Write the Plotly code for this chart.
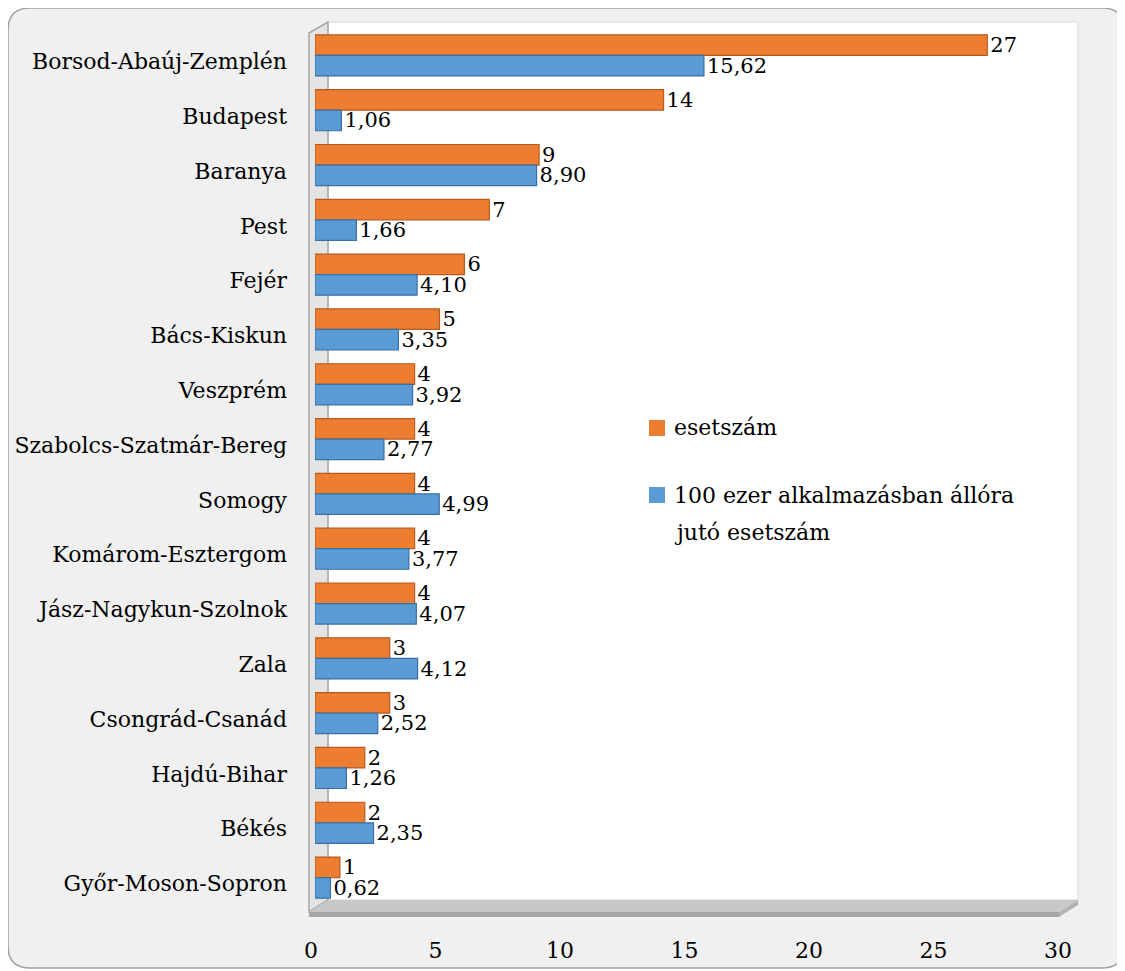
import plotly.graph_objects as go

categories = ["Borsod-Abaúj-Zemplén", "Budapest", "Baranya", "Pest", "Fejér", "Bács-Kiskun",
              "Veszprém", "Szabolcs-Szatmár-Bereg", "Somogy", "Komárom-Esztergom",
              "Jász-Nagykun-Szolnok", "Zala", "Csongrád-Csanád", "Hajdú-Bihar", "Békés",
              "Győr-Moson-Sopron"]
esetszam = [27, 14, 9, 7, 6, 5, 4, 4, 4, 4, 4, 3, 3, 2, 2, 1]
per100k = [15.62, 1.06, 8.90, 1.66, 4.10, 3.35, 3.92, 2.77, 4.99, 3.77, 4.07, 4.12, 2.52, 1.26, 2.35, 0.62]
x_ticks = [0, 5, 10, 15, 20, 25, 30]
series_names = ["esetszám", "100 ezer alkalmazásban állóra", "jutó esetszám"]

FONT = "DejaVu Serif"
FS = 22
W, H = 1117, 963          # page has an 8px body margin
OFF = 8
# plot area in page pixels
PL, PR, PT, PB = 315, 1062, 28, 905
ORANGE, BLUE = "#ED7D31", "#5B9BD5"


def px(X):
    return (X - PL) / (PR - PL)


def py(Y):
    return (PB - Y) / (PB - PT)


def poly(points):
    return "M " + " L ".join(f"{px(x):.5f},{py(y):.5f}" for x, y in points) + " Z"


def fmt(v):
    return f"{v:.2f}".replace(".", ",")


fig = go.Figure()
fig.add_trace(go.Bar(
    y=categories, x=esetszam, orientation="h", name=series_names[0],
    marker=dict(color=ORANGE, line=dict(color="#B85A1C", width=1.2)),
    text=[str(v) for v in esetszam], textposition="outside", cliponaxis=False,
    constraintext="none", textfont=dict(family=FONT, size=21, color="#000000"),
    showlegend=False,
))
fig.add_trace(go.Bar(
    y=categories, x=per100k, orientation="h", name=series_names[1] + " " + series_names[2],
    marker=dict(color=BLUE, line=dict(color="#3A6FA5", width=1.2)),
    text=[fmt(v) for v in per100k], textposition="outside", cliponaxis=False,
    constraintext="none", textfont=dict(family=FONT, size=21, color="#000000"),
    showlegend=False,
))

# rounded outer frame
r = 22
x0, x1, y0, y1 = 8, 1124, 8, 968
frame = (f"M {px(x0+r)},{py(y0)} L {px(x1-r)},{py(y0)} "
         f"Q {px(x1)},{py(y0)} {px(x1)},{py(y0+r)} L {px(x1)},{py(y1-r)} "
         f"Q {px(x1)},{py(y1)} {px(x1-r)},{py(y1)} L {px(x0+r)},{py(y1)} "
         f"Q {px(x0)},{py(y1)} {px(x0)},{py(y1-r)} L {px(x0)},{py(y0+r)} "
         f"Q {px(x0)},{py(y0)} {px(x0+r)},{py(y0)} Z")

shapes = [
    dict(type="path", xref="paper", yref="paper", layer="below", path=frame,
         line=dict(color="#A0A0A0", width=1.5), fillcolor="#F0F0F0"),
    # back wall
    dict(type="path", xref="paper", yref="paper", layer="below",
         path=poly([(328, 22), (1078, 22), (1078, 900), (328, 900)]),
         line=dict(color="#D9D9D9", width=1), fillcolor="#FFFFFF"),
    # left wall
    dict(type="path", xref="paper", yref="paper", layer="below",
         path=poly([(309, 33), (328, 22), (328, 900), (309, 912)]),
         line=dict(color="#A6A6A6", width=1.5), fillcolor="#E4E4E4"),
    # floor top
    dict(type="path", xref="paper", yref="paper", layer="below",
         path=poly([(309, 912), (328, 900), (1078, 900), (1059, 912)]),
         line=dict(width=0), fillcolor="#C8C8C8"),
    # floor front face
    dict(type="path", xref="paper", yref="paper", layer="below",
         path=poly([(309, 912), (1059, 912), (1059, 917), (309, 917)]),
         line=dict(width=0), fillcolor="#A6A6A6"),
    # floor right face
    dict(type="path", xref="paper", yref="paper", layer="below",
         path=poly([(1059, 912), (1078, 900), (1078, 905), (1059, 917)]),
         line=dict(width=0), fillcolor="#B4B4B4"),
    # legend swatches
    dict(type="rect", xref="paper", yref="paper",
         x0=px(649), x1=px(665), y0=py(436), y1=py(420),
         line=dict(width=0), fillcolor=ORANGE),
    dict(type="rect", xref="paper", yref="paper",
         x0=px(649), x1=px(665), y0=py(503), y1=py(487),
         line=dict(width=0), fillcolor=BLUE),
]

annotations = [
    dict(xref="paper", yref="paper", x=px(672), y=py(428), xanchor="left", yanchor="middle",
         text=series_names[0], showarrow=False, font=dict(family=FONT, size=FS, color="#000000")),
    dict(xref="paper", yref="paper", x=px(672), y=py(495), xanchor="left", yanchor="middle",
         text=series_names[1], showarrow=False, font=dict(family=FONT, size=FS, color="#000000")),
    dict(xref="paper", yref="paper", x=px(672), y=py(532), xanchor="left", yanchor="middle",
         text=series_names[2], showarrow=False, font=dict(family=FONT, size=FS, color="#000000")),
]

fig.update_layout(
    width=W, height=H,
    margin=dict(l=PL - OFF, r=W - (PR - OFF), t=PT - OFF, b=H - (PB - OFF)),
    paper_bgcolor="#FFFFFF", plot_bgcolor="rgba(0,0,0,0)",
    barmode="group", bargap=0.25, bargroupgap=0.0,
    font=dict(family=FONT, size=FS, color="#000000"),
    showlegend=False,
    shapes=shapes, annotations=annotations,
    xaxis=dict(range=[0, 30], tickvals=x_ticks, ticktext=[str(t) for t in x_ticks],
               showgrid=False, zeroline=False, showline=False, ticks="",
               automargin=False, ticklabelstandoff=30, ticklabelshift=-4,
               tickfont=dict(family=FONT, size=FS)),
    yaxis=dict(autorange="reversed", showgrid=False, zeroline=False, showline=False, ticks="",
               automargin=False, ticklabelstandoff=27, ticklabelshift=-6,
               tickfont=dict(family=FONT, size=FS)),
)

fig.write_html("out.html")
